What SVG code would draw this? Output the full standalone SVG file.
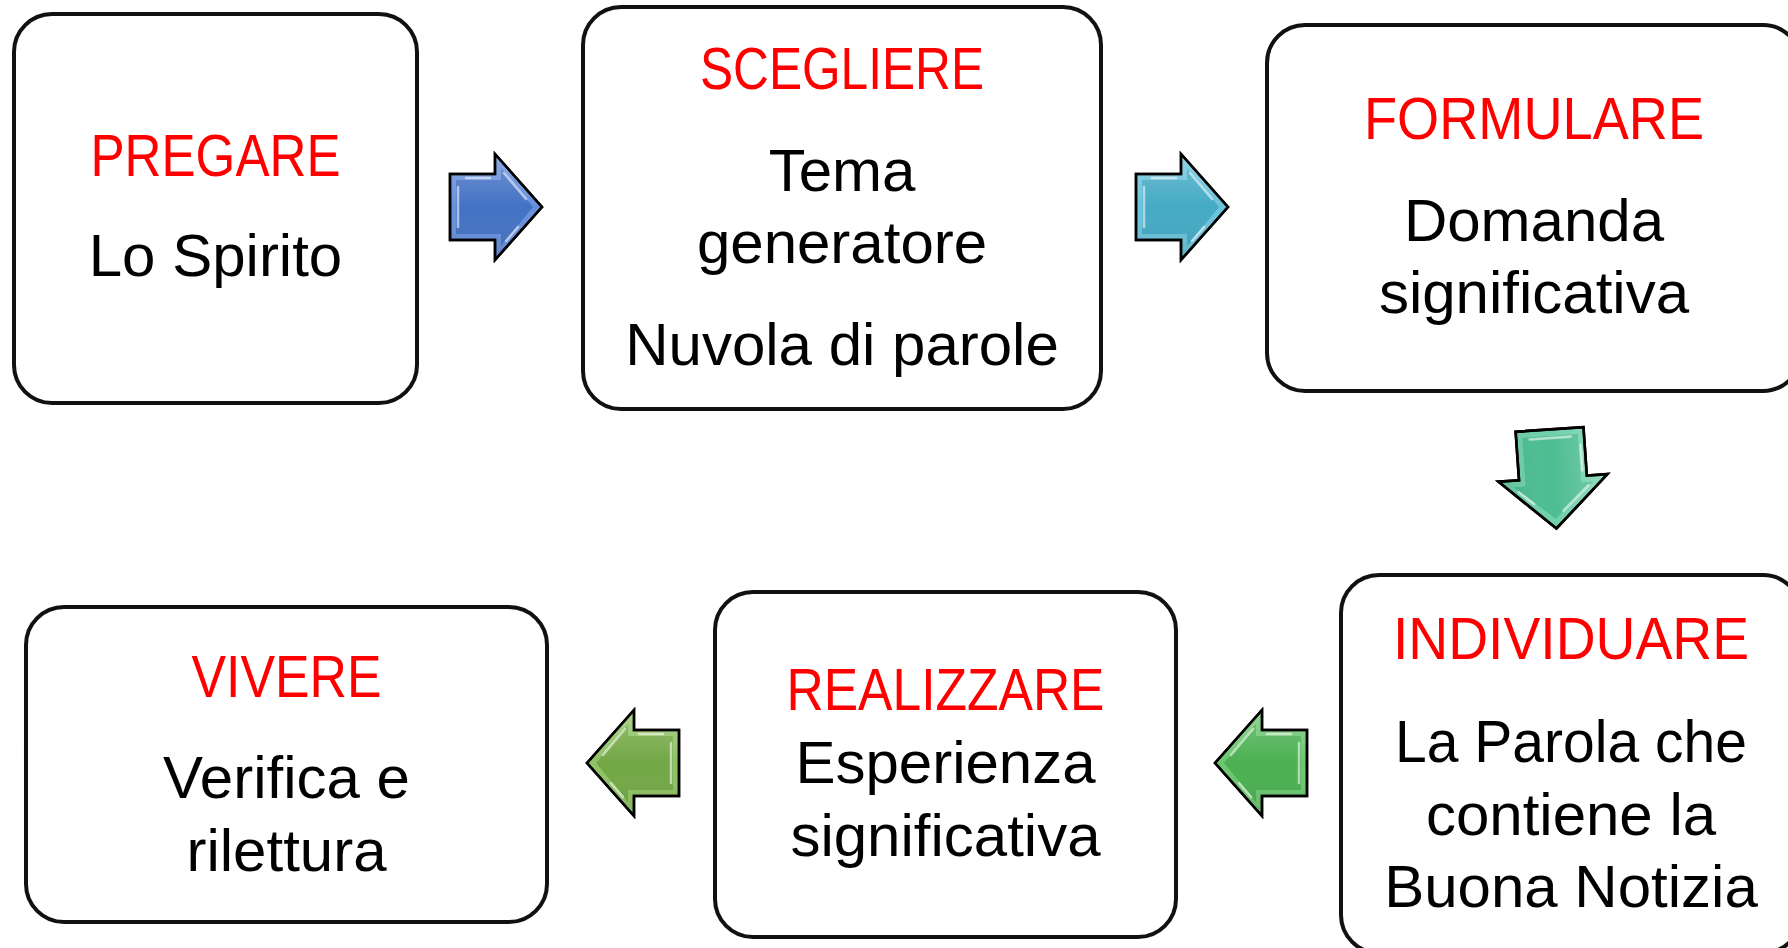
<svg xmlns="http://www.w3.org/2000/svg" xmlns:xlink="http://www.w3.org/1999/xlink" width="1788" height="948" viewBox="0 0 1788 948">
<style>
.box{fill:#fff;stroke:#111;stroke-width:4}
text{font-family:"Liberation Sans",Arial,sans-serif;font-size:60px;text-anchor:middle;fill:#000}
.t{fill:#ff0000}
.hl{fill:none;stroke:#fff;stroke-opacity:0.55;stroke-width:2.5;stroke-linecap:round}
</style>
<defs>
<polygon id="ao" points="-46,-33 -1,-33 -1,-53 46,0 -1,53 -1,33 -46,33" stroke="#000" stroke-width="2.5" stroke-linejoin="miter"/>
<polygon id="ai" points="-40,-27 5,-27 5,-39 37,0 5,39 5,27 -40,27"/>
<g id="hi">
<path class="hl" d="M-38,-20 L-38,20"/>
<path class="hl" d="M8,-34 L30,-8"/>
<path class="hl" d="M-30,-29 L-6,-29"/>
<path class="hl" d="M10,34 L22,20"/>
</g>
<linearGradient id="gloss" x1="0" y1="0" x2="0" y2="1">
<stop offset="0" stop-color="#fff" stop-opacity="0.25"/>
<stop offset="0.5" stop-color="#fff" stop-opacity="0"/>
<stop offset="1" stop-color="#000" stop-opacity="0.1"/>
</linearGradient>
</defs>
<g id="nodes">
<g id="n-pregare">
<rect class="box" x="14" y="14" width="403" height="389" rx="38"/>
<text class="t" x="215.5" y="176" textLength="250" lengthAdjust="spacingAndGlyphs">PREGARE</text>
<text x="215.5" y="276">Lo Spirito</text>
</g>
<g id="n-scegliere">
<rect class="box" x="583" y="7" width="518" height="402" rx="38"/>
<text class="t" x="842" y="89" textLength="284" lengthAdjust="spacingAndGlyphs">SCEGLIERE</text>
<text x="842" y="191">Tema</text>
<text x="842" y="263">generatore</text>
<text x="842" y="365">Nuvola di parole</text>
</g>
<g id="n-formulare">
<rect class="box" x="1267" y="25" width="534" height="366" rx="38"/>
<text class="t" x="1534" y="139" textLength="340" lengthAdjust="spacingAndGlyphs">FORMULARE</text>
<text x="1534" y="241">Domanda</text>
<text x="1534" y="313">significativa</text>
</g>
<g id="n-individuare">
<rect class="box" x="1341" y="575" width="460" height="378" rx="38"/>
<text class="t" x="1571" y="659" textLength="356" lengthAdjust="spacingAndGlyphs">INDIVIDUARE</text>
<text x="1571" y="762" textLength="352" lengthAdjust="spacingAndGlyphs">La Parola che</text>
<text x="1571" y="835">contiene la</text>
<text x="1571" y="907">Buona Notizia</text>
</g>
<g id="n-realizzare">
<rect class="box" x="715" y="592" width="461" height="345" rx="38"/>
<text class="t" x="945.5" y="710" textLength="318" lengthAdjust="spacingAndGlyphs">REALIZZARE</text>
<text x="945.5" y="783">Esperienza</text>
<text x="945.5" y="856">significativa</text>
</g>
<g id="n-vivere">
<rect class="box" x="26" y="607" width="521" height="315" rx="38"/>
<text class="t" x="286.5" y="697" textLength="190" lengthAdjust="spacingAndGlyphs">VIVERE</text>
<text x="286.5" y="798">Verifica e</text>
<text x="286.5" y="871">rilettura</text>
</g>
</g>
<g id="connectors">
<g id="a1" transform="translate(496,207)">
<use xlink:href="#ao" fill="#6790dc"/>
<use xlink:href="#ai" fill="#4472c4"/>
<use xlink:href="#ao" fill="url(#gloss)"/>
<use xlink:href="#hi"/>
</g>
<g id="a2" transform="translate(1182,207)">
<use xlink:href="#ao" fill="#6cc3da"/>
<use xlink:href="#ai" fill="#45aac4"/>
<use xlink:href="#ao" fill="url(#gloss)"/>
<use xlink:href="#hi"/>
</g>
<g id="a3" transform="translate(1553,479) rotate(86) scale(1.08,1.03)">
<use xlink:href="#ao" fill="#6fd0aa"/>
<use xlink:href="#ai" fill="#4dbd92"/>
<use xlink:href="#ao" fill="url(#gloss)"/>
<use xlink:href="#hi"/>
</g>
<g id="a4" transform="translate(1261,763) scale(-1,1)">
<use xlink:href="#ao" fill="#6cc670"/>
<use xlink:href="#ai" fill="#4bb052"/>
<use xlink:href="#ao" fill="url(#gloss)"/>
<use xlink:href="#hi"/>
</g>
<g id="a5" transform="translate(633,763) scale(-1,1)">
<use xlink:href="#ao" fill="#8fc263"/>
<use xlink:href="#ai" fill="#72a845"/>
<use xlink:href="#ao" fill="url(#gloss)"/>
<use xlink:href="#hi"/>
</g>
</g>
</svg>
